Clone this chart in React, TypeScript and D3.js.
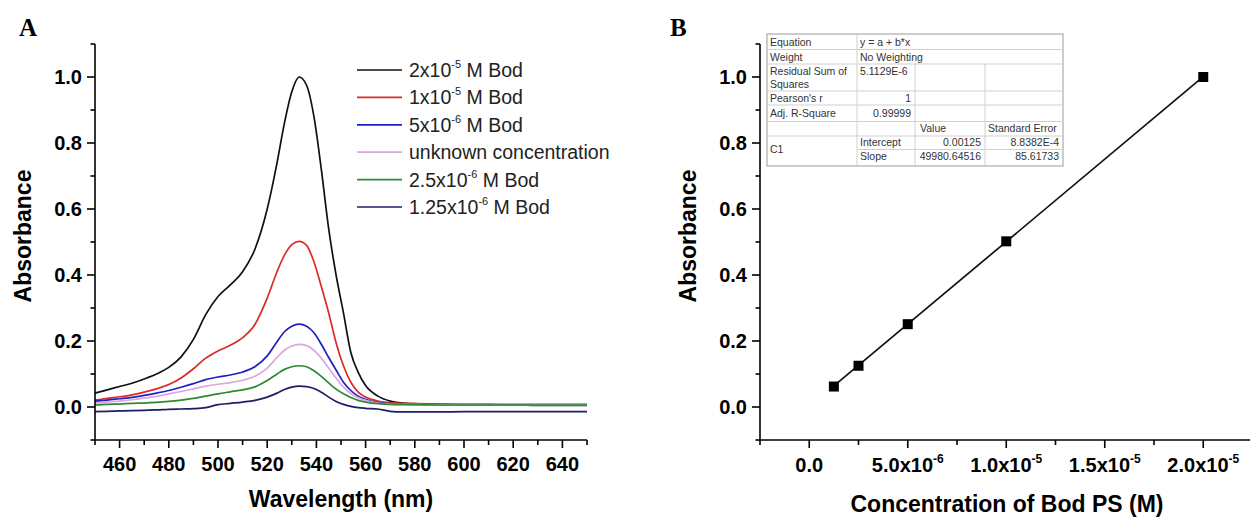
import React from "react";
import * as d3 from "d3";

// ---------- Panel A data ----------
const wavelengths = [450,455,460,465,470,475,480,485,490,495,500,505,510,515,520,524,527,530,533,536,539,542,545,548,551,554,557,560,565,570,575,580,590,600,610,620,630,640,650];
const abs2e5 = [0.042,0.052,0.062,0.072,0.085,0.100,0.120,0.152,0.205,0.280,0.335,0.370,0.410,0.478,0.600,0.740,0.860,0.955,1.000,0.975,0.880,0.720,0.540,0.400,0.285,0.165,0.105,0.065,0.033,0.018,0.012,0.010,0.008,0.007,0.006,0.006,0.005,0.005,0.005];
const abs1e5 = [0.021,0.026,0.031,0.037,0.045,0.055,0.068,0.088,0.116,0.148,0.170,0.187,0.210,0.250,0.330,0.410,0.460,0.492,0.502,0.490,0.440,0.365,0.285,0.195,0.125,0.075,0.045,0.030,0.018,0.013,0.011,0.010,0.009,0.008,0.008,0.007,0.007,0.007,0.007];
const abs5e6 = [0.018,0.021,0.025,0.029,0.035,0.042,0.050,0.060,0.071,0.083,0.091,0.097,0.106,0.122,0.155,0.198,0.228,0.245,0.251,0.245,0.225,0.190,0.150,0.112,0.075,0.050,0.033,0.023,0.013,0.010,0.009,0.008,0.008,0.007,0.007,0.007,0.007,0.007,0.007];
const absUnknown = [0.012,0.015,0.018,0.022,0.027,0.032,0.040,0.047,0.055,0.063,0.069,0.074,0.081,0.093,0.118,0.150,0.172,0.185,0.190,0.186,0.172,0.148,0.118,0.088,0.060,0.041,0.028,0.020,0.012,0.009,0.008,0.008,0.007,0.007,0.006,0.006,0.006,0.006,0.006];
const abs25e6 = [0.006,0.008,0.009,0.011,0.012,0.014,0.017,0.021,0.026,0.033,0.040,0.046,0.052,0.061,0.080,0.100,0.114,0.122,0.125,0.122,0.110,0.093,0.073,0.054,0.040,0.029,0.020,0.015,0.010,0.008,0.007,0.007,0.006,0.006,0.006,0.006,0.006,0.006,0.006];
const abs125e6 = [-0.014,-0.013,-0.012,-0.011,-0.010,-0.009,-0.007,-0.006,-0.005,-0.002,0.007,0.011,0.015,0.020,0.030,0.042,0.053,0.060,0.063,0.062,0.056,0.045,0.030,0.017,0.008,0.002,-0.002,-0.004,-0.006,-0.013,-0.015,-0.015,-0.015,-0.014,-0.014,-0.014,-0.014,-0.014,-0.014];

const legendMain = ["2x10", "1x10", "5x10", "unknown concentration", "2.5x10", "1.25x10"];
const legendExp = ["-5", "-5", "-6", "", "-6", "-6"];
const legendTail = [" M Bod", " M Bod", " M Bod", "", " M Bod", " M Bod"];
const seriesColors = ["#111111", "#dc2a2a", "#1f1fc4", "#dda6dd", "#2b8a32", "#1d1d6a"];
const seriesValues = [abs2e5, abs1e5, abs5e6, absUnknown, abs25e6, abs125e6];

const xTicksA = [460, 480, 500, 520, 540, 560, 580, 600, 620, 640];
const xMinorA = [450, 470, 490, 510, 530, 550, 570, 590, 610, 630, 650];
const yTicks = [0, 0.2, 0.4, 0.6, 0.8, 1.0];
const yMinor = [-0.1, 0.1, 0.3, 0.5, 0.7, 0.9, 1.1];

// ---------- Panel B data ----------
const concentrations = [1.25e-6, 2.5e-6, 5e-6, 1e-5, 2e-5];
const peakAbsorbance = [0.062, 0.125, 0.251, 0.502, 1.0];
const fitIntercept = 0.00125;
const fitSlope = 49980.64516;
const concTicks = [0, 5e-6, 1e-5, 1.5e-5, 2e-5];
const concTickMain = ["0.0", "5.0x10", "1.0x10", "1.5x10", "2.0x10"];
const concTickExp = ["", "-6", "-5", "-5", "-5"];
const concMinor = [-2.5e-6, 2.5e-6, 7.5e-6, 1.25e-5, 1.75e-5];

const FONT = "'Liberation Sans', Arial, Helvetica, sans-serif";
const SERIF = "'Liberation Serif', 'Times New Roman', serif";

export default function App() {
  const xA = d3.scaleLinear().domain([450, 650]).range([95, 587]);
  const y = d3.scaleLinear().domain([-0.1, 1.1]).range([440, 44]);
  const xB = d3.scaleLinear().domain([-2.5e-6, 2.25e-5]).range([760, 1252.5]);

  const lineGen = d3
    .line<[number, number]>()
    .x((d) => xA(d[0]))
    .y((d) => y(d[1]))
    .curve(d3.curveMonotoneX);

  const fmt = d3.format(".1f");
  const axisStyle = { stroke: "#000", strokeWidth: 1.6, fill: "none" } as const;

  const yAxis = (x0: number, keyp: string) => (
    <g key={keyp}>
      <line x1={x0} x2={x0} y1={y(1.1)} y2={y(-0.1)} {...axisStyle} />
      {yTicks.map((t) => (
        <g key={"yt" + t}>
          <line x1={x0 - 8} x2={x0} y1={y(t)} y2={y(t)} {...axisStyle} />
          <text x={x0 - 13} y={y(t)} dy="0.36em" textAnchor="end" fontFamily={FONT} fontWeight="bold" fontSize={20}>
            {fmt(t)}
          </text>
        </g>
      ))}
      {yMinor.map((t) => (
        <line key={"ym" + t} x1={x0 - 4.5} x2={x0} y1={y(t)} y2={y(t)} {...axisStyle} />
      ))}
    </g>
  );

  const fitX0 = concentrations[0];
  const fitX1 = concentrations[concentrations.length - 1];

  const tL = 767, tR = 1063, tT = 34, tB = 166;
  const c1 = 857, c2 = 915, c3 = 985;
  const tableText = { fontFamily: FONT, fontSize: 10.5, fill: "#333" } as const;
  const inner = { stroke: "#cfcfcf", strokeWidth: 1 } as const;

  return (
    <svg width={1250} height={519} style={{ position: "absolute", left: 0, top: 0, background: "#fff" }}>
      <rect x={0} y={0} width={1250} height={519} fill="#fff" />
      {/* ---------- Panel A ---------- */}
      <text x={19} y={36} fontFamily={SERIF} fontWeight="bold" fontSize={25}>A</text>
      <g>
        {seriesValues.map((vals, i) => {
          const pts = wavelengths.map((w, j) => [w, vals[j]] as [number, number]);
          return <path key={"s" + i} d={lineGen(pts) || ""} fill="none" stroke={seriesColors[i]} strokeWidth={1.7} />;
        })}
      </g>
      {yAxis(95, "yA")}
      <line x1={95} x2={587} y1={440} y2={440} {...axisStyle} />
      {xTicksA.map((t) => (
        <g key={"xa" + t}>
          <line x1={xA(t)} x2={xA(t)} y1={440} y2={448} {...axisStyle} />
          <text x={xA(t)} y={471} textAnchor="middle" fontFamily={FONT} fontWeight="bold" fontSize={20}>{t}</text>
        </g>
      ))}
      {xMinorA.map((t) => (
        <line key={"xam" + t} x1={xA(t)} x2={xA(t)} y1={440} y2={445} {...axisStyle} />
      ))}
      <text x={341} y={507} textAnchor="middle" fontFamily={FONT} fontWeight="bold" fontSize={23}>Wavelength (nm)</text>
      <text transform="translate(31,236) rotate(-90)" textAnchor="middle" fontFamily={FONT} fontWeight="bold" fontSize={23}>Absorbance</text>

      {/* legend */}
      {legendMain.map((m, i) => {
        const ly = 70 + i * 27.4;
        return (
          <g key={"lg" + i}>
            <line x1={357} x2={402} y1={ly} y2={ly} stroke={seriesColors[i]} strokeWidth={1.7} />
            <text x={409} y={ly + 7} fontFamily={FONT} fontSize={19.5} fill="#222">
              {m}
              {legendExp[i] ? (
                <>
                  <tspan dy={-9} fontSize={11}>{legendExp[i]}</tspan>
                  <tspan dy={9}>{legendTail[i]}</tspan>
                </>
              ) : null}
            </text>
          </g>
        );
      })}

      {/* ---------- Panel B ---------- */}
      <text x={670} y={36} fontFamily={SERIF} fontWeight="bold" fontSize={25}>B</text>
      {yAxis(760, "yB")}
      <line x1={760} x2={1250} y1={440} y2={440} {...axisStyle} />
      {concTicks.map((t, i) => (
        <g key={"xb" + i}>
          <line x1={xB(t)} x2={xB(t)} y1={440} y2={448} {...axisStyle} />
          <text x={xB(t)} y={472} textAnchor="middle" fontFamily={FONT} fontWeight="bold" fontSize={20}>
            {concTickMain[i]}
            {concTickExp[i] ? <tspan dy={-9} fontSize={12}>{concTickExp[i]}</tspan> : null}
          </text>
        </g>
      ))}
      {concMinor.map((t, i) => (
        <line key={"xbm" + i} x1={xB(t)} x2={xB(t)} y1={440} y2={445} {...axisStyle} />
      ))}
      <text x={1007} y={512} textAnchor="middle" fontFamily={FONT} fontWeight="bold" fontSize={23}>Concentration of Bod PS (M)</text>
      <text transform="translate(696,236) rotate(-90)" textAnchor="middle" fontFamily={FONT} fontWeight="bold" fontSize={23}>Absorbance</text>

      <line
        x1={xB(fitX0)} y1={y(fitIntercept + fitSlope * fitX0)}
        x2={xB(fitX1)} y2={y(fitIntercept + fitSlope * fitX1)}
        stroke="#111" strokeWidth={1.7}
      />
      {concentrations.map((c, i) => (
        <rect key={"pt" + i} x={xB(c) - 5} y={y(peakAbsorbance[i]) - 5} width={10} height={10} fill="#000" />
      ))}

      {/* fit table */}
      <g>
        <rect x={tL} y={tT} width={tR - tL} height={tB - tT} fill="#fff" stroke="#999" strokeWidth={1} />
        <line x1={tL} x2={tR} y1={49.5} y2={49.5} {...inner} />
        <line x1={tL} x2={tR} y1={64} y2={64} {...inner} />
        <line x1={tL} x2={tR} y1={91} y2={91} {...inner} />
        <line x1={tL} x2={tR} y1={105} y2={105} {...inner} />
        <line x1={tL} x2={tR} y1={121.5} y2={121.5} {...inner} />
        <line x1={tL} x2={tR} y1={136} y2={136} {...inner} />
        <line x1={c1} x2={tR} y1={149.5} y2={149.5} {...inner} />
        <line x1={c1} x2={c1} y1={tT} y2={tB} {...inner} />
        <line x1={c2} x2={c2} y1={64} y2={tB} {...inner} />
        <line x1={c3} x2={c3} y1={64} y2={tB} {...inner} />
        <text x={770} y={46} {...tableText}>Equation</text>
        <text x={860} y={46} {...tableText}>y = a + b*x</text>
        <text x={770} y={60.5} {...tableText}>Weight</text>
        <text x={860} y={60.5} {...tableText}>No Weighting</text>
        <text x={770} y={75} {...tableText}>Residual Sum of</text>
        <text x={770} y={88} {...tableText}>Squares</text>
        <text x={860} y={74.5} {...tableText}>5.1129E-6</text>
        <text x={770} y={102} {...tableText}>Pearson's r</text>
        <text x={911} y={102} textAnchor="end" {...tableText}>1</text>
        <text x={770} y={117} {...tableText}>Adj. R-Square</text>
        <text x={911} y={117} textAnchor="end" {...tableText}>0.99999</text>
        <text x={920} y={132} {...tableText}>Value</text>
        <text x={988} y={132} {...tableText}>Standard Error</text>
        <text x={770} y={153} {...tableText}>C1</text>
        <text x={860} y={146} {...tableText}>Intercept</text>
        <text x={981} y={146} textAnchor="end" {...tableText}>0.00125</text>
        <text x={1059} y={146} textAnchor="end" {...tableText}>8.8382E-4</text>
        <text x={860} y={160} {...tableText}>Slope</text>
        <text x={981} y={160} textAnchor="end" {...tableText}>49980.64516</text>
        <text x={1059} y={160} textAnchor="end" {...tableText}>85.61733</text>
      </g>
    </svg>
  );
}
